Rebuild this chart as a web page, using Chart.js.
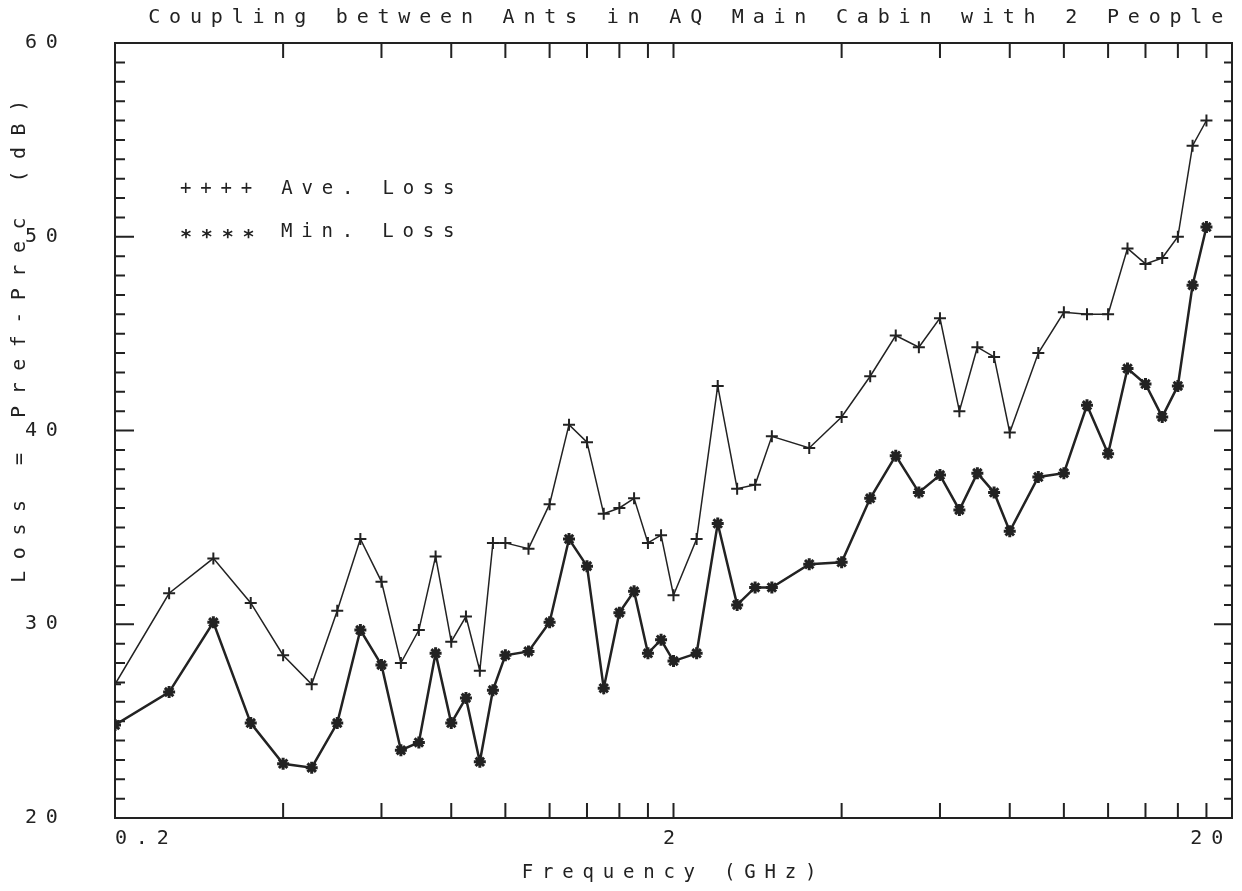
<!DOCTYPE html>
<html>
<head>
<meta charset="utf-8">
<title>Coupling between Ants in AQ Main Cabin with 2 People</title>
<script src="https://cdn.jsdelivr.net/npm/chart.js@4.4.1/dist/chart.umd.min.js"></script>
<style>
  html, body { margin: 0; padding: 0; background: #fff; }
  #wrap { width: 1242px; height: 891px; }
</style>
</head>
<body>
<div id="wrap"><canvas id="chart" width="1242" height="891"></canvas></div>
<script>
// frequencies (GHz) of the measured points
const freqGHz = [0.2, 0.25, 0.3, 0.35, 0.4, 0.45, 0.5, 0.55, 0.6, 0.65, 0.7, 0.75, 0.8, 0.85, 0.9, 0.95,
  1.0, 1.1, 1.2, 1.3, 1.4, 1.5, 1.6, 1.7, 1.8, 1.9, 2.0, 2.2, 2.4, 2.6, 2.8, 3.0, 3.5, 4.0, 4.5, 5.0,
  5.5, 6.0, 6.5, 7.0, 7.5, 8.0, 9.0, 10, 11, 12, 13, 14, 15, 16, 17, 18];

// Loss = Pref - Prec (dB)
const aveLoss = [26.9, 31.6, 33.4, 31.1, 28.4, 26.9, 30.7, 34.4, 32.2, 28.0, 29.7, 33.5, 29.1, 30.4, 27.6, 34.2,
  34.2, 33.9, 36.2, 40.3, 39.4, 35.7, 36.0, 36.5, 34.2, 34.6, 31.5, 34.4, 42.3, 37.0, 37.2, 39.7, 39.1, 40.7, 42.8, 44.9,
  44.3, 45.8, 41.0, 44.3, 43.8, 39.9, 44.0, 46.1, 46.0, 46.0, 49.4, 48.6, 48.9, 50.0, 54.7, 56.0];
const minLoss = [24.8, 26.5, 30.1, 24.9, 22.8, 22.6, 24.9, 29.7, 27.9, 23.5, 23.9, 28.5, 24.9, 26.2, 22.9, 26.6,
  28.4, 28.6, 30.1, 34.4, 33.0, 26.7, 30.6, 31.7, 28.5, 29.2, 28.1, 28.5, 35.2, 31.0, 31.9, 31.9, 33.1, 33.2, 36.5, 38.7,
  36.8, 37.7, 35.9, 37.8, 36.8, 34.8, 37.6, 37.8, 41.3, 38.8, 43.2, 42.4, 40.7, 42.3, 47.5, 50.5];

const xTickValues = [0.2, 0.4, 0.6, 0.8, 1, 1.2, 1.4, 1.6, 1.8, 2, 4, 6, 8, 10, 12, 14, 16, 18, 20];
const xLabelValues = [0.2, 2, 20];
const yTickValues = [20, 30, 40, 50, 60];

const ink = "#222";
const plotterFont = "'DejaVu Sans Mono', monospace";

// ticks point inward on all four sides, plus the in-plot legend and y title
const framePlugin = {
  id: "frame",
  beforeDraw(chart) {
    // wide plotter-style lettering
    chart.ctx.letterSpacing = "8.8px";
  },
  afterDraw(chart) {
    const { ctx, chartArea: a, scales: { x, y } } = chart;
    ctx.save();
    ctx.strokeStyle = ink;
    ctx.lineWidth = 2;
    ctx.beginPath();
    ctx.moveTo(a.left, a.top);
    ctx.lineTo(a.right, a.top);
    ctx.lineTo(a.right, a.bottom);
    for (let v = y.min; v <= y.max; v++) {
      const py = y.getPixelForValue(v);
      const major = v % 10 === 0;
      ctx.moveTo(a.left, py);
      ctx.lineTo(a.left + (major ? 19 : 10), py);
      ctx.moveTo(a.right, py);
      ctx.lineTo(a.right - (major ? 18 : 8), py);
    }
    xTickValues.slice(1, -1).forEach(v => {
      const px = x.getPixelForValue(v);
      ctx.moveTo(px, a.top);
      ctx.lineTo(px, a.top + 15);
      ctx.moveTo(px, a.bottom);
      ctx.lineTo(px, a.bottom - 15);
    });
    ctx.stroke();

    // legend lines
    ctx.fillStyle = ink;
    ctx.font = "19px " + plotterFont;
    ctx.textBaseline = "middle";
    ctx.textAlign = "left";
    const lx = a.left + 65;
    const [ave, min] = chart.data.datasets;
    ctx.fillText("++++ " + ave.label, lx, a.top + 146);
    ctx.font = "bold 20px " + plotterFont;
    ctx.fillText("****", lx, a.top + 195);
    ctx.font = "19px " + plotterFont;
    ctx.fillText(min.label, lx + 101, a.top + 189);

    // y axis title
    ctx.font = "20px " + plotterFont;
    ctx.translate(20, (a.top + a.bottom) / 2 - 89);
    ctx.rotate(-Math.PI / 2);
    ctx.textAlign = "center";
    ctx.letterSpacing = "11.5px";
    ctx.fillText("Loss = Pref-Prec (dB)", 6, 0);
    ctx.restore();
  }
};

new Chart(document.getElementById("chart"), {
  type: "line",
  data: {
    datasets: [{
      label: "Ave. Loss",
      data: freqGHz.map((f, i) => ({ x: f, y: aveLoss[i] })),
      borderColor: ink,
      borderWidth: 1.5,
      pointStyle: "cross",
      pointRadius: 6,
      pointBorderWidth: 2,
      pointBorderColor: ink,
      pointBackgroundColor: ink,
      tension: 0
    }, {
      label: "Min. Loss",
      data: freqGHz.map((f, i) => ({ x: f, y: minLoss[i] })),
      borderColor: ink,
      borderWidth: 2.5,
      pointStyle: "star",
      pointRadius: 6,
      pointBorderWidth: 3,
      pointBorderColor: ink,
      pointBackgroundColor: ink,
      tension: 0
    }]
  },
  options: {
    responsive: false,
    animation: false,
    layout: { padding: { left: 25, right: 10, top: 0, bottom: 0 } },
    plugins: {
      legend: { display: false },
      tooltip: { enabled: false },
      title: {
        display: true,
        text: "Coupling between Ants in AQ Main Cabin with 2 People",
        align: "end",
        color: ink,
        font: { family: plotterFont, size: 20, weight: "normal" },
        padding: { top: 6, bottom: 13 }
      }
    },
    scales: {
      x: {
        type: "logarithmic",
        min: 0.2,
        max: 20,
        afterBuildTicks: s => { s.ticks = xTickValues.map(v => ({ value: v })); },
        afterFit: s => { s.height = 73; },
        grid: { display: false, drawTicks: false },
        border: { display: true, color: ink, width: 2 },
        ticks: {
          autoSkip: false,
          maxRotation: 0,
          align: "inner",
          padding: 9,
          color: ink,
          font: { family: plotterFont, size: 20 },
          callback: v => xLabelValues.includes(v) ? String(v) : ""
        },
        title: {
          display: true,
          text: "Frequency (GHz)",
          color: ink,
          font: { family: plotterFont, size: 19 },
          padding: { top: 0, bottom: 7 }
        }
      },
      y: {
        min: 20,
        max: 60,
        afterBuildTicks: s => { s.ticks = yTickValues.map(v => ({ value: v })); },
        afterFit: s => { s.width = 90; },
        grid: { display: false, drawTicks: false },
        border: { display: true, color: ink, width: 2 },
        ticks: {
          crossAlign: "far",
          padding: 0,
          color: ink,
          font: { family: plotterFont, size: 20 },
          callback: v => String(v)
        }
      }
    }
  },
  plugins: [framePlugin]
});
</script>
</body>
</html>
